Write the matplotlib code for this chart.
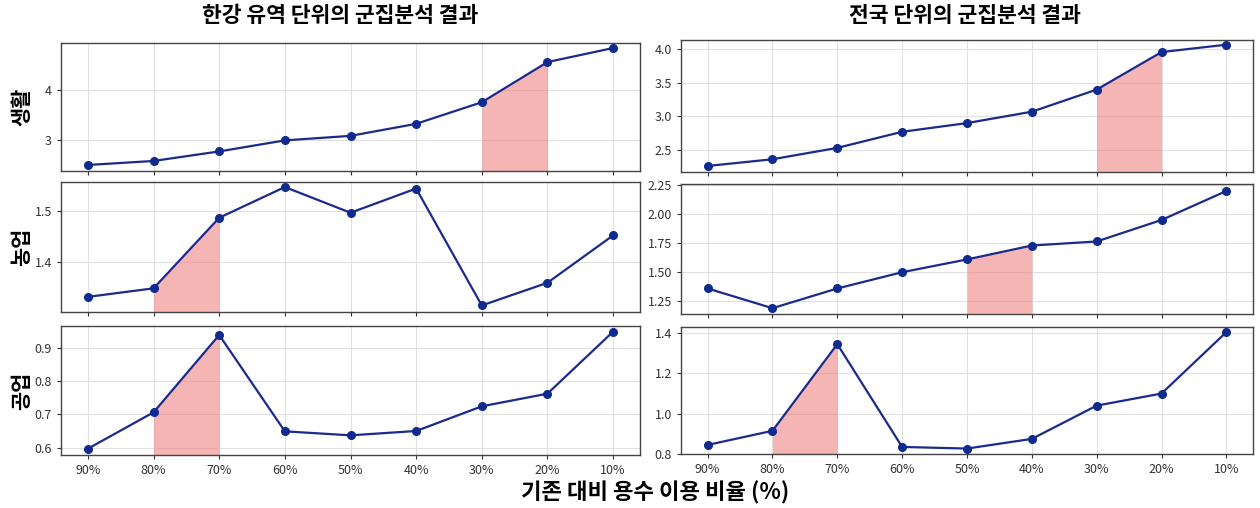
import matplotlib
matplotlib.use("Agg")
import matplotlib.pyplot as plt

plt.rcParams['font.family'] = ['Noto Sans CJK KR', 'DejaVu Sans']

ratios = ["90%", "80%", "70%", "60%", "50%", "40%", "30%", "20%", "10%"]

han_living = [2.50, 2.58, 2.77, 2.99, 3.08, 3.32, 3.75, 4.55, 4.83]
han_agri = [1.330, 1.347, 1.487, 1.548, 1.497, 1.545, 1.313, 1.358, 1.452]
han_ind = [0.597, 0.706, 0.938, 0.649, 0.637, 0.650, 0.724, 0.762, 0.948]

nat_living = [2.26, 2.36, 2.53, 2.77, 2.90, 3.07, 3.40, 3.96, 4.07]
nat_agri = [1.36, 1.19, 1.36, 1.50, 1.61, 1.73, 1.765, 1.95, 2.20]
nat_ind = [0.845, 0.915, 1.345, 0.835, 0.827, 0.875, 1.04, 1.10, 1.405]

row_labels = ["생활", "농업", "공업"]
titles = ["한강 유역 단위의 군집분석 결과", "전국 단위의 군집분석 결과"]

# highlighted ratio span (start label, end label) per panel
han_spans = [("30%", "20%"), ("80%", "70%"), ("80%", "70%")]
nat_spans = [("30%", "20%"), ("50%", "40%"), ("80%", "70%")]

han_ylim = [(2.38, 4.93), (1.30, 1.558), (0.578, 0.965)]
nat_ylim = [(2.17, 4.14), (1.14, 2.26), (0.80, 1.43)]
han_ticks = [[3, 4], [1.4, 1.5], [0.6, 0.7, 0.8, 0.9]]
nat_ticks = [[2.5, 3.0, 3.5, 4.0], [1.25, 1.50, 1.75, 2.00, 2.25], [0.8, 1.0, 1.2, 1.4]]
nat_fmt = ["{:.1f}", "{:.2f}", "{:.1f}"]
han_fmt = ["{:.0f}", "{:.1f}", "{:.1f}"]

fig = plt.figure(figsize=(12.6, 5.08), dpi=100)

col_x = [(61, 640), (681, 1253)]
row_y = [[(43, 171), (182, 312), (326, 455)], [(40, 172), (184, 314), (327, 454)]]

line_c = "#1b2a8c"
fill_c = "#f08080"
x = list(range(len(ratios)))

cols = [
    (han_living, han_agri, han_ind),
    (nat_living, nat_agri, nat_ind),
]
spans = [han_spans, nat_spans]
ylims = [han_ylim, nat_ylim]
ticks = [han_ticks, nat_ticks]
fmts = [han_fmt, nat_fmt]
title_x = [340, 965]

for c in range(2):
    x0, x1 = col_x[c]
    for r in range(3):
        y0, y1 = row_y[c][r]
        ax = fig.add_axes([x0 / 1260, 1 - y1 / 508, (x1 - x0) / 1260, (y1 - y0) / 508])
        vals = cols[c][r]
        lo, hi = ylims[c][r]
        s0, s1 = ratios.index(spans[c][r][0]), ratios.index(spans[c][r][1])
        ax.fill_between(x[s0:s1 + 1], vals[s0:s1 + 1], lo, color=fill_c, alpha=0.58, lw=0, zorder=1)
        ax.plot(x, vals, color=line_c, lw=1.6, marker="o", ms=5.5, mfc="#0f2b8f", mec="#0f2b8f", zorder=3)
        ax.set_xlim(-0.41, 8.41)
        ax.set_ylim(lo, hi)
        ax.set_yticks(ticks[c][r])
        ax.set_yticklabels([fmts[c][r].format(t) for t in ticks[c][r]])
        ax.set_xticks(x)
        if r == 2:
            ax.set_xticklabels(ratios)
        else:
            ax.set_xticklabels([])
        ax.grid(True, color="#e0e0e0", lw=0.8)
        ax.set_axisbelow(True)
        ax.tick_params(labelsize=9, colors="#333333", length=3)
        for sp in ax.spines.values():
            sp.set_color("#444444")
            sp.set_linewidth(1.0)
        if c == 0:
            fig.text(22 / 1260, 1 - (y0 + y1) / 2 / 508, row_labels[r], rotation=90,
                     ha="center", va="center", fontsize=15, fontweight="bold")
    fig.text(title_x[c] / 1260, 1 - 16 / 508, titles[c], ha="center", va="center",
             fontsize=15.5, fontweight="bold")

fig.text(655 / 1260, 1 - 493 / 508, "기존 대비 용수 이용 비율 (%)", ha="center", va="center",
         fontsize=16, fontweight="bold")

fig.savefig("out.png", dpi=100)
